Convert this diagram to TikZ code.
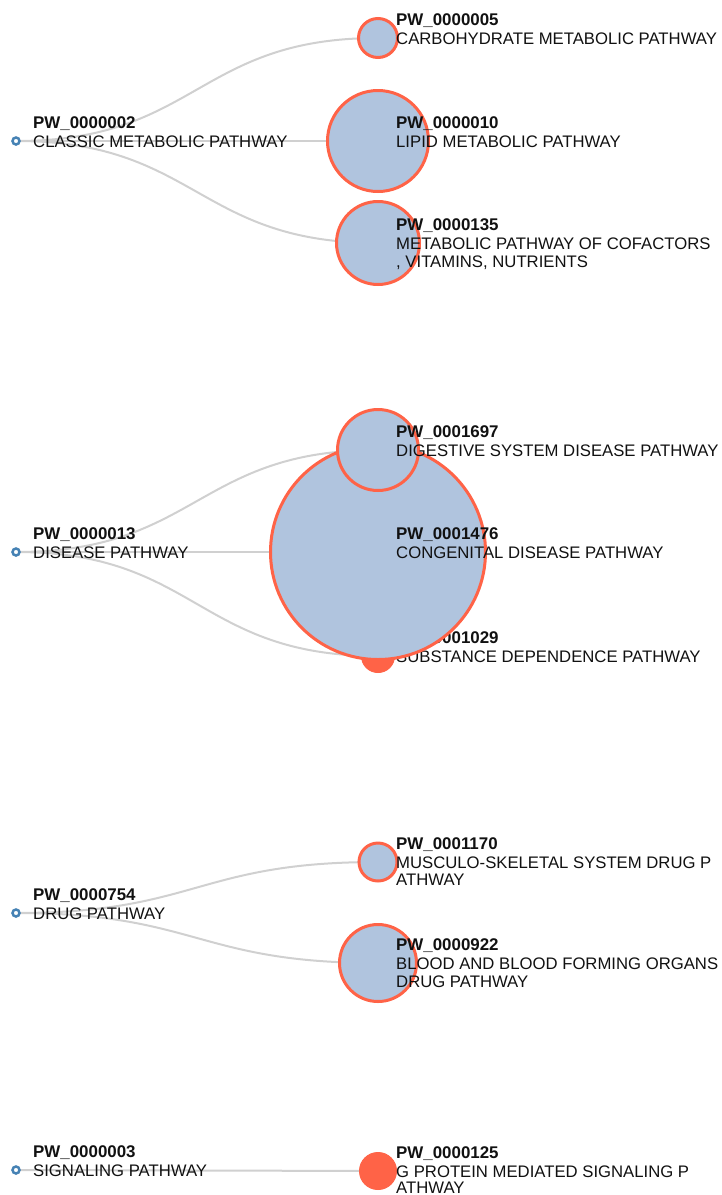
\documentclass[tikz,border=0pt]{standalone}
\usepackage{fontspec}
\setmainfont{Liberation Sans}
\usetikzlibrary{calc,backgrounds}
\definecolor{linkgrey}{HTML}{D0D0D0}
\definecolor{rootblue}{HTML}{4682B4}
\definecolor{nodefill}{HTML}{B0C4DE}
\definecolor{nodeedge}{HTML}{FF6347}
\definecolor{labelink}{HTML}{111111}
\begin{document}
\begin{tikzpicture}[x=1pt,y=-1pt,
  link/.style={draw=linkgrey, line width=2pt},
  rootnode/.style={circle, draw=rootblue, fill=white, line width=2.5pt, minimum size=7pt, inner sep=0pt},
  leafnode/.style={circle, draw=nodeedge, fill=nodefill, line width=3pt, inner sep=0pt},
  fullnode/.style={circle, draw=nodeedge, fill=nodeedge, line width=1pt, inner sep=0pt},
  idlabel/.style={anchor=base west, inner sep=0pt, text=labelink, font=\fontsize{16.9}{19}\selectfont\bfseries},
  namelabel/.style={anchor=base west, inner sep=0pt, text=labelink, font=\fontsize{16.7}{19}\selectfont},
]
\useasboundingbox (0,0) rectangle (721,1195);

% ---- roots ----
\node[rootnode] (r2) at (16,141) {};
\node[rootnode] (r13) at (16,552) {};
\node[rootnode] (r754) at (16,913) {};
\node[rootnode] (r3) at (16,1170) {};

\node[idlabel] (r2id) at (33,128) {PW\_0000002};
\node[namelabel] (r2nm) at (33,147) {CLASSIC METABOLIC PATHWAY};
\node[idlabel] (r13id) at (33,539) {PW\_0000013};
\node[namelabel] (r13nm) at (33,558) {DISEASE PATHWAY};
\node[idlabel] (r754id) at (33,900) {PW\_0000754};
\node[namelabel] (r754nm) at (33,919) {DRUG PATHWAY};
\node[idlabel] (r3id) at (33,1157) {PW\_0000003};
\node[namelabel] (r3nm) at (33,1176) {SIGNALING PATHWAY};

% ---- classic metabolic ----
\node[leafnode, minimum size=39pt] (c5) at (378,38) {};
\node[idlabel] (c5id) at (396,25) {PW\_0000005};
\node[namelabel] (c5nm) at (396,44) {CARBOHYDRATE METABOLIC PATHWAY};

\node[leafnode, minimum size=101pt] (c10) at (378,141) {};
\node[idlabel] (c10id) at (396,128) {PW\_0000010};
\node[namelabel] (c10nm) at (396,147) {LIPID METABOLIC PATHWAY};

\node[leafnode, minimum size=83pt] (c135) at (378,243) {};
\node[idlabel] (c135id) at (396,230) {PW\_0000135};
\node[namelabel] (c135nm) at (396,249) {METABOLIC PATHWAY OF COFACTORS};
\node[namelabel] (c135nm2) at (396,267) {, VITAMINS, NUTRIENTS};

% ---- disease ----
\node[fullnode, minimum size=33pt] (c1029) at (378,656) {};
\node[idlabel] (c1029id) at (396,643) {PW\_0001029};
\node[namelabel] (c1029nm) at (396,662) {SUBSTANCE DEPENDENCE PATHWAY};

\node[leafnode, minimum size=215pt] (c1476) at (378,552) {};
\node[idlabel] (c1476id) at (396,539) {PW\_0001476};
\node[namelabel] (c1476nm) at (396,558) {CONGENITAL DISEASE PATHWAY};

\node[leafnode, minimum size=81pt] (c1697) at (378,450) {};
\node[idlabel] (c1697id) at (396,437) {PW\_0001697};
\node[namelabel] (c1697nm) at (396,456) {DIGESTIVE SYSTEM DISEASE PATHWAY};

% ---- drug ----
\node[leafnode, minimum size=38pt] (c1170) at (378,862) {};
\node[idlabel] (c1170id) at (396,849) {PW\_0001170};
\node[namelabel] (c1170nm) at (396,868) {MUSCULO-SKELETAL SYSTEM DRUG P};
\node[namelabel] (c1170nm2) at (396,885) {ATHWAY};

\node[leafnode, minimum size=77pt] (c922) at (378,963) {};
\node[idlabel] (c922id) at (396,950) {PW\_0000922};
\node[namelabel] (c922nm) at (396,969) {BLOOD AND BLOOD FORMING ORGANS};
\node[namelabel] (c922nm2) at (396,987) {DRUG PATHWAY};

% ---- signaling ----
\node[fullnode, minimum size=37pt] (c125) at (378,1171) {};
\node[idlabel] (c125id) at (396,1158) {PW\_0000125};
\node[namelabel] (c125nm) at (396,1177) {G PROTEIN MEDIATED SIGNALING P};
\node[namelabel] (c125nm2) at (396,1193) {ATHWAY};

% ---- links (horizontal diagonals), beneath everything ----
\begin{scope}[on background layer]
  \foreach \r/\c in {r2/c5, r2/c10, r2/c135, r13/c1697, r13/c1476, r13/c1029,
                     r754/c1170, r754/c922, r3/c125} {
    \draw[link] let \p1=(\r.center), \p2=(\c.center) in
      (\p1) .. controls ({0.5*(\x1+\x2)},\y1) and ({0.5*(\x1+\x2)},\y2) .. (\p2);
  }
\end{scope}
\end{tikzpicture}
\end{document}
